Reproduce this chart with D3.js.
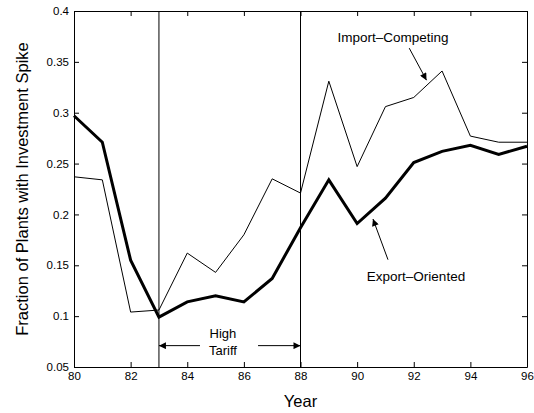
<!DOCTYPE html>
<html>
<head>
<meta charset="utf-8">
<script src="https://cdn.jsdelivr.net/npm/d3@7"></script>
<style>
    body { margin: 0; background: #fff; }
    svg { font-family: "Liberation Sans", Arial, sans-serif; }
    .axis path, .axis line { stroke: #000; }
    .axis text { font-size: 11.5px; fill: #000; }
</style>
</head>
<body>
<svg id="chart" width="534" height="413"></svg>
<script>
const years = [80, 81, 82, 83, 84, 85, 86, 87, 88, 89, 90, 91, 92, 93, 94, 95, 96];
const exportOriented = [0.297, 0.271, 0.155, 0.099, 0.114, 0.120, 0.114, 0.137, 0.187, 0.234, 0.191, 0.216, 0.251, 0.262, 0.268, 0.259, 0.267];
const importCompeting = [0.237, 0.234, 0.104, 0.106, 0.162, 0.143, 0.180, 0.235, 0.221, 0.331, 0.247, 0.306, 0.315, 0.341, 0.277, 0.271, 0.271];
const xTicks = [80, 82, 84, 86, 88, 90, 92, 94, 96];
const yTicks = [0.05, 0.1, 0.15, 0.2, 0.25, 0.3, 0.35, 0.4];
const tariffYears = [83, 88];

const margin = { top: 11, right: 7, bottom: 46, left: 74 };
const width = 534 - margin.left - margin.right;
const height = 413 - margin.top - margin.bottom;

const svg = d3.select("#chart");
const chartArea = svg.append("g")
    .attr("transform", `translate(${margin.left},${margin.top})`);

const xScale = d3.scaleLinear().domain([80, 96]).range([0, width]);
const yScale = d3.scaleLinear().domain([0.05, 0.4]).range([height, 0]);

const fmtY = d => String(+d.toFixed(2));

// axes, ticks pointing inward on all four sides
chartArea.append("g")
    .attr("class", "axis")
    .attr("transform", `translate(0,${height})`)
    .call(d3.axisBottom(xScale).tickValues(xTicks).tickSize(-5).tickSizeOuter(0).tickPadding(5));
chartArea.append("g")
    .attr("class", "axis")
    .call(d3.axisTop(xScale).tickValues(xTicks).tickSize(-5).tickSizeOuter(0).tickFormat(""));
chartArea.append("g")
    .attr("class", "axis")
    .call(d3.axisLeft(yScale).tickValues(yTicks).tickSize(-5).tickSizeOuter(0).tickPadding(5).tickFormat(fmtY));
chartArea.append("g")
    .attr("class", "axis")
    .attr("transform", `translate(${width},0)`)
    .call(d3.axisRight(yScale).tickValues(yTicks).tickSize(-5).tickSizeOuter(0).tickFormat(""));

// tariff period lines
chartArea.selectAll(".tariff-line")
    .data(tariffYears)
    .join("line")
    .attr("class", "tariff-line")
    .attr("x1", d => xScale(d))
    .attr("x2", d => xScale(d))
    .attr("y1", 0)
    .attr("y2", height)
    .attr("stroke", "#000")
    .attr("stroke-width", 1);

const line = d3.line()
    .x((d, i) => xScale(years[i]))
    .y(d => yScale(d));

chartArea.append("path")
    .datum(importCompeting)
    .attr("fill", "none")
    .attr("stroke", "#000")
    .attr("stroke-width", 1)
    .attr("d", line);

chartArea.append("path")
    .datum(exportOriented)
    .attr("fill", "none")
    .attr("stroke", "#000")
    .attr("stroke-width", 3)
    .attr("d", line);

// arrow head
svg.append("defs").append("marker")
    .attr("id", "arrow")
    .attr("viewBox", "0 0 10 10")
    .attr("refX", 10)
    .attr("refY", 5)
    .attr("markerWidth", 10)
    .attr("markerHeight", 7)
    .attr("markerUnits", "userSpaceOnUse")
    .attr("orient", "auto")
    .append("path")
    .attr("d", "M0,0L10,5L0,10z")
    .attr("fill", "#000");

const arrow = (x1, y1, x2, y2) => {
    chartArea.append("line")
        .attr("x1", xScale(x1)).attr("y1", yScale(y1))
        .attr("x2", xScale(x2)).attr("y2", yScale(y2))
        .attr("stroke", "#000")
        .attr("stroke-width", 1)
        .attr("marker-end", "url(#arrow)");
};

const label = (x, y, size, txt) => {
    chartArea.append("text")
        .attr("x", xScale(x))
        .attr("y", yScale(y))
        .attr("text-anchor", "middle")
        .attr("font-size", size)
        .text(txt);
};

// High Tariff annotation
arrow(84.45, 0.071, 83, 0.071);
arrow(86.5, 0.071, 88, 0.071);
label(85.26, 0.0785, 13, "High");
label(85.26, 0.0615, 13, "Tariff");

// series labels
label(91.27, 0.3695, 13.5, "Import\u2013Competing");
arrow(91.84, 0.3635, 92.45, 0.332);

label(92.08, 0.1345, 13.5, "Export\u2013Oriented");
arrow(91.09, 0.1555, 90.56, 0.1955);

// axis titles
svg.append("text")
    .attr("x", margin.left + width / 2)
    .attr("y", 407)
    .attr("text-anchor", "middle")
    .attr("font-size", 16.5)
    .text("Year");
svg.append("text")
    .attr("transform", "rotate(-90)")
    .attr("x", -(margin.top + height / 2))
    .attr("y", 28)
    .attr("text-anchor", "middle")
    .attr("font-size", 16.5)
    .text("Fraction of Plants with Investment Spike");
</script>
</body>
</html>
